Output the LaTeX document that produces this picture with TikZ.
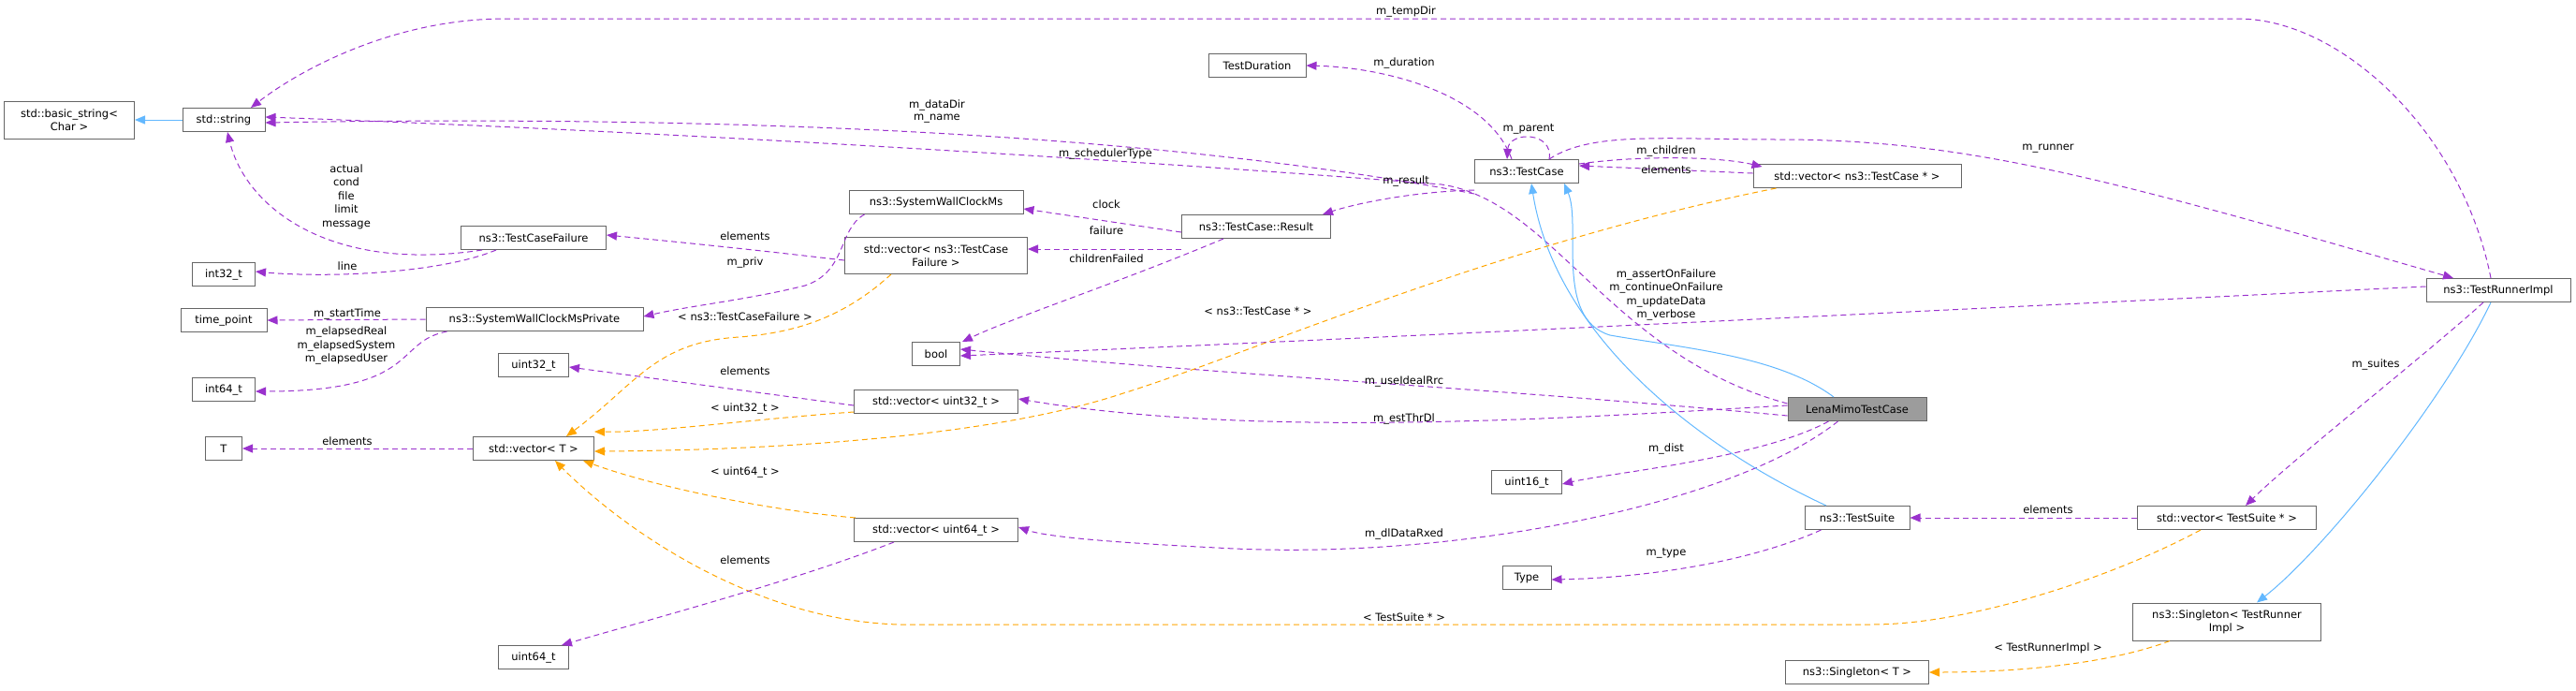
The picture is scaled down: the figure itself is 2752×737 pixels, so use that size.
\documentclass[tikz,border=0pt]{standalone}
\usepackage{fontspec}
\setmainfont{DejaVu Sans}
\usetikzlibrary{arrows.meta}
\definecolor{pu}{HTML}{9A32CD}
\definecolor{orr}{HTML}{FFA500}
\definecolor{bl}{HTML}{63B8FF}
\definecolor{bd}{HTML}{666666}
\tikzset{
 box/.style={draw=bd,line width=1pt,fill=white,minimum height=25pt,inner xsep=3pt,inner ysep=2pt,font=\fontsize{11.5}{14}\selectfont,align=center},
 lab/.style={font=\fontsize{11.5}{13.5}\selectfont,align=center,inner sep=1pt},
 pe/.style={draw=pu,line width=1pt,dash pattern=on 6pt off 4pt,-{Triangle[length=11pt,width=9pt,fill=pu]}},
 oe/.style={draw=orr,line width=1pt,dash pattern=on 6pt off 4pt,-{Triangle[length=11pt,width=9pt,fill=orr]}},
 be/.style={draw=bl,line width=1pt,-{Triangle[length=11pt,width=9pt,fill=bl]}},
}
\begin{document}
\begin{tikzpicture}[x=1pt,y=-1pt]
\useasboundingbox (0,0) rectangle (2752,737);
% nodes
\node[box,minimum width=139pt,minimum height=40pt] (bs) at (74,128) {std::basic\_string<\\Char >};
\node[box,minimum width=88pt] (str) at (239,128) {std::string};
\node[box,minimum width=155pt] (tcf) at (570,254) {ns3::TestCaseFailure};
\node[box,minimum width=67pt] (i32) at (239,293) {int32\_t};
\node[box,minimum width=92pt] (tp) at (239,342) {time\_point};
\node[box,minimum width=232pt] (swp) at (571,341) {ns3::SystemWallClockMsPrivate};
\node[box,minimum width=67pt] (i64) at (239,416) {int64\_t};
\node[box,minimum width=75pt] (u32) at (570,390) {uint32\_t};
\node[box,minimum width=39pt] (T) at (239,479) {T};
\node[box,minimum width=129pt] (vT) at (570,479) {std::vector< T >};
\node[box,minimum width=75pt] (u64) at (570,702) {uint64\_t};
\node[box,minimum width=104pt] (td) at (1343,70) {TestDuration};
\node[box,minimum width=111pt] (tc) at (1631,183) {ns3::TestCase};
\node[box,minimum width=186pt] (swc) at (1000,216) {ns3::SystemWallClockMs};
\node[box,minimum width=159pt] (res) at (1342,242) {ns3::TestCase::Result};
\node[box,minimum width=195pt,minimum height=39pt] (vtcf) at (1000,273) {std::vector< ns3::TestCase\\Failure >};
\node[box,minimum width=51pt] (bool) at (1000,378) {bool};
\node[box,minimum width=175pt] (vu32) at (1000,429) {std::vector< uint32\_t >};
\node[box,minimum width=75pt] (u16) at (1631,515) {uint16\_t};
\node[box,minimum width=175pt] (vu64) at (1000,566) {std::vector< uint64\_t >};
\node[box,minimum width=52pt] (type) at (1631,617) {Type};
\node[box,minimum width=222pt] (vtc) at (1984,188) {std::vector< ns3::TestCase * >};
\node[box,minimum width=154pt] (tri) at (2669,310) {ns3::TestRunnerImpl};
\node[box,minimum width=148pt,fill=bd!65] (lena) at (1984,437) {LenaMimoTestCase};
\node[box,minimum width=112pt] (ts) at (1984,553) {ns3::TestSuite};
\node[box,minimum width=191pt] (vts) at (2379,553) {std::vector< TestSuite * >};
\node[box,minimum width=201pt,minimum height=40pt] (stri) at (2379,664) {ns3::Singleton< TestRunner\\Impl >};
\node[box,minimum width=153pt] (sT) at (1984,718) {ns3::Singleton< T >};
% edges
\draw[be] (str.west) -- (bs.east);
\draw[pe] ([xshift=-8pt]tri.north) .. controls (2630,140) and (2500,20) .. (2391,20) -- (540,20) .. controls (420,20) and (320,75) .. ([xshift=29pt]str.north);
\draw[pe] ([yshift=-11pt]tc.south west) .. controls (1200,135) and (700,124) .. ([yshift=-3pt]str.east);
\draw[pe] ([yshift=-7pt]lena.north west) .. controls (1720,380) and (1660,215) .. (1540,197) .. controls (1200,170) and (700,140) .. ([yshift=3pt]str.east);
\draw[pe] ([xshift=23pt]tcf.south west) .. controls (350,292) and (262,220) .. ([xshift=4pt]str.south);
\draw[pe] ([xshift=38pt]tcf.south west) .. controls (470,292) and (350,297) .. ([yshift=3pt]i32.east);
\draw[pe] ([yshift=-5pt]vtcf.west) .. controls (800,266) and (720,258) .. ([yshift=3pt]tcf.east);
\draw[pe] ([xshift=17pt]swc.south west) .. controls (895,245) and (905,290) .. (860,305) .. controls (800,320) and (740,326) .. ([yshift=-10pt]swp.north east);
\draw[pe] (swp.west) -- (tp.east);
\draw[pe] ([xshift=23pt]swp.south west) .. controls (420,365) and (450,418) .. ([yshift=-2pt]i64.east);
\draw[pe] ([yshift=-6pt]res.west) -- ([yshift=-7pt]swc.east);
\draw[pe] ([yshift=-11pt]res.south west) -- ([yshift=7pt]vtcf.east);
\draw[pe] ([xshift=45pt]res.south west) .. controls (1200,300) and (1080,340) .. ([xshift=2pt]bool.north east);
\draw[pe] ([yshift=-7pt]tc.south west) .. controls (1500,205) and (1440,220) .. ([xshift=-9pt]res.north east);
\draw[pe] ([xshift=-16pt]tc.north) .. controls (1590,100) and (1480,72) .. (td.east);
\draw[pe] ([xshift=24pt]tc.north) .. controls (1660,140) and (1612,140) .. ([xshift=-21pt]tc.north);
\draw[pe] ([yshift=-5pt]tc.north east) .. controls (1760,165) and (1840,168) .. ([xshift=10pt,yshift=-3pt]vtc.north west);
\draw[pe] ([yshift=3pt]vtc.west) -- ([yshift=6pt]tc.east);
\draw[pe] ([xshift=24pt]tc.north) .. controls (1700,140) and (1780,149) .. (1900,149) .. controls (2100,149) and (2250,190) .. ([xshift=-48pt]tri.north);
\draw[pe] ([yshift=4pt]tri.west) .. controls (2100,330) and (1500,360) .. ([yshift=-2pt]bool.east);
\draw[pe] ([yshift=-7pt]lena.west) .. controls (1600,415) and (1300,400) .. ([yshift=5pt]bool.east);
\draw[pe] ([yshift=4pt]lena.west) .. controls (1700,445) and (1350,470) .. ([yshift=3pt]vu32.east);
\draw[pe] ([xshift=44pt]lena.south west) .. controls (1880,490) and (1720,505) .. ([yshift=-2pt]u16.east);
\draw[pe] ([xshift=54pt]lena.south west) .. controls (1850,540) and (1550,600) .. (1300,585) .. controls (1200,580) and (1120,574) .. ([yshift=3pt]vu64.east);
\draw[be] ([xshift=-25pt]lena.north) .. controls (1900,380) and (1800,372) .. (1720,358) .. controls (1660,340) and (1690,240) .. ([xshift=40pt]tc.south);
\draw[be] ([xshift=-33pt]ts.north) .. controls (1800,470) and (1660,350) .. ([xshift=5pt]tc.south);
\draw[pe] ([xshift=18pt]ts.south west) .. controls (1870,600) and (1760,617) .. ([yshift=-2pt]type.east);
\draw[pe] (vts.west) -- (ts.east);
\draw[pe] ([xshift=-16pt]tri.south) .. controls (2590,380) and (2450,490) .. ([xshift=20pt]vts.north);
\draw[be] ([xshift=-8pt]tri.south) .. controls (2610,430) and (2480,590) .. ([xshift=32pt]stri.north);
\draw[oe] ([xshift=40pt]stri.south west) .. controls (2250,710) and (2150,718) .. (sT.east);
\draw[oe] ([xshift=-28pt]vts.south) .. controls (2250,620) and (2100,667) .. (2000,667) -- (960,667) .. controls (800,662) and (660,560) .. ([xshift=23pt]vT.south);
\draw[oe] ([xshift=25pt]vtc.south west) .. controls (1600,260) and (1330,380) .. (1200,420) .. controls (1050,470) and (800,481) .. ([yshift=-3pt]vT.east);
\draw[oe] ([xshift=50pt]vtcf.south west) .. controls (900,340) and (850,355) .. (790,360) .. controls (700,365) and (680,410) .. ([xshift=35pt]vT.north);
\draw[oe] ([yshift=2pt]vu32.south west) .. controls (800,448) and (700,462) .. ([yshift=5pt]vT.north east);
\draw[oe] ([xshift=2pt]vu64.north west) .. controls (820,545) and (700,520) .. ([xshift=-12pt]vT.south east);
\draw[pe] (vT.west) -- (T.east);
\draw[pe] ([yshift=-4pt]vu32.west) -- ([yshift=-2pt]u32.east);
\draw[pe] ([xshift=43pt]vu64.south west) .. controls (850,620) and (700,660) .. ([xshift=-8pt]u64.north east);
% labels
\node[lab] (l1) at (1502,12) {m\_tempDir};
\node[lab] (l2) at (1500,67) {m\_duration};
\node[lab] (l3) at (1001,119) {m\_dataDir\\m\_name};
\node[lab] (l4) at (1633,138) {m\_parent};
\node[lab] (l5) at (1181,164) {m\_schedulerType};
\node[lab] (l6) at (1780,161) {m\_children};
\node[lab] (l7) at (1780,181) {elements};
\node[lab] (l8) at (1502,193) {m\_result};
\node[lab] (l9) at (1182,218) {clock};
\node[lab] (l10) at (1182,246) {failure};
\node[lab] (l11) at (1182,276) {childrenFailed};
\node[lab,font=\fontsize{11.5}{14.5}\selectfont] (l12) at (1780,315) {m\_assertOnFailure\\m\_continueOnFailure\\m\_updateData\\m\_verbose};
\node[lab] (l13) at (1344,332) {< ns3::TestCase * >};
\node[lab] (l14) at (1500,407) {m\_useIdealRrc};
\node[lab] (l15) at (1500,447) {m\_estThrDl};
\node[lab] (l16) at (1780,479) {m\_dist};
\node[lab] (l17) at (1500,570) {m\_dlDataRxed};
\node[lab] (l18) at (1780,591) {m\_type};
\node[lab] (l19) at (1500,659) {< TestSuite * >};
\node[lab] (l20) at (2188,159) {m\_runner};
\node[lab] (l21) at (2538,389) {m\_suites};
\node[lab] (l22) at (2188,544) {elements};
\node[lab] (l23) at (2188,692) {< TestRunnerImpl >};
\node[lab,font=\fontsize{11.5}{14.5}\selectfont] (l24) at (370,210) {actual\\cond\\file\\limit\\message};
\node[lab] (l25) at (371,284) {line};
\node[lab] (l26) at (796,252) {elements};
\node[lab] (l27) at (796,280) {m\_priv};
\node[lab] (l28) at (371,335) {m\_startTime};
\node[lab,font=\fontsize{11.5}{14.5}\selectfont] (l29) at (370,369) {m\_elapsedReal\\m\_elapsedSystem\\m\_elapsedUser};
\node[lab] (l30) at (796,338) {< ns3::TestCaseFailure >};
\node[lab] (l31) at (796,396) {elements};
\node[lab] (l32) at (796,436) {< uint32\_t >};
\node[lab] (l33) at (371,471) {elements};
\node[lab] (l34) at (796,504) {< uint64\_t >};
\node[lab] (l35) at (796,598) {elements};
\end{tikzpicture}
\end{document}
